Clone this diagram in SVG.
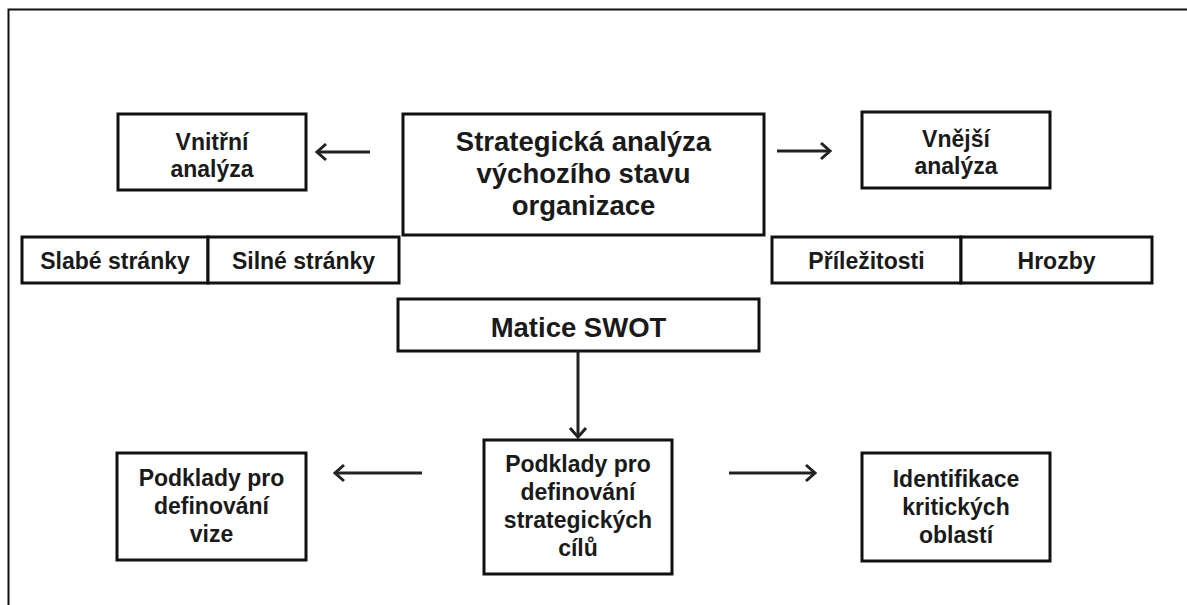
<svg xmlns="http://www.w3.org/2000/svg" width="1187" height="605" viewBox="0 0 1187 605">
<defs>
<style>
.box{fill:#fff;stroke:#111;stroke-width:3}
.t{font-family:"Liberation Sans",Arial,sans-serif;font-weight:bold;fill:#1a1a1a;text-anchor:middle}
.s{font-size:23px}
.l{font-size:27.5px}
.c{fill:none;stroke:#222;stroke-width:3}
</style>
<marker id="ah" markerUnits="userSpaceOnUse" markerWidth="14" markerHeight="20" refX="12" refY="10" orient="auto">
<path d="M3,2 L12,10 L3,18" fill="none" stroke="#222" stroke-width="3"/>
</marker>
</defs>
<rect width="1187" height="605" fill="#fff"/>
<path d="M8.5,605 V9.5 H1187" fill="none" stroke="#111" stroke-width="2"/>

<g id="vnitrni">
<rect class="box" x="118" y="114" width="188" height="76"/>
<text class="t s" x="212" y="150">Vnitřní</text>
<text class="t s" x="212" y="177">analýza</text>
</g>
<g id="strategicka">
<rect class="box" x="403" y="114" width="361" height="121"/>
<text class="t l" x="583.5" y="151">Strategická analýza</text>
<text class="t l" x="583.5" y="183">výchozího stavu</text>
<text class="t l" x="583.5" y="215">organizace</text>
</g>
<g id="vnejsi">
<rect class="box" x="862" y="112" width="188" height="76"/>
<text class="t s" x="956" y="147">Vnější</text>
<text class="t s" x="956" y="174">analýza</text>
</g>
<g id="slabe">
<rect class="box" x="22" y="237" width="186" height="46"/>
<text class="t s" x="115" y="269">Slabé stránky</text>
</g>
<g id="silne">
<rect class="box" x="208" y="237" width="191" height="46"/>
<text class="t s" x="303.5" y="269">Silné stránky</text>
</g>
<g id="prilezitosti">
<rect class="box" x="772" y="237" width="189" height="46"/>
<text class="t s" x="866.5" y="269">Příležitosti</text>
</g>
<g id="hrozby">
<rect class="box" x="961" y="237" width="191" height="46"/>
<text class="t s" x="1056.5" y="269">Hrozby</text>
</g>
<g id="matice">
<rect class="box" x="398" y="299" width="361" height="52"/>
<text class="t l" x="578.5" y="337">Matice SWOT</text>
</g>
<g id="vize">
<rect class="box" x="117" y="453" width="189" height="107"/>
<text class="t s" x="211.5" y="486">Podklady pro</text>
<text class="t s" x="211.5" y="514">definování</text>
<text class="t s" x="211.5" y="542">vize</text>
</g>
<g id="cile">
<rect class="box" x="484" y="440" width="188" height="134"/>
<text class="t s" x="578" y="472">Podklady pro</text>
<text class="t s" x="578" y="500">definování</text>
<text class="t s" x="578" y="528">strategických</text>
<text class="t s" x="578" y="556">cílů</text>
</g>
<g id="identifikace">
<rect class="box" x="862" y="453" width="188" height="108"/>
<text class="t s" x="956" y="487">Identifikace</text>
<text class="t s" x="956" y="515">kritických</text>
<text class="t s" x="956" y="543">oblastí</text>
</g>

<g id="connectors">
<line class="c" x1="370" y1="152" x2="317" y2="152" marker-end="url(#ah)"/>
<line class="c" x1="777" y1="151" x2="830" y2="151" marker-end="url(#ah)"/>
<line class="c" x1="578" y1="351" x2="578" y2="437" marker-end="url(#ah)"/>
<line class="c" x1="422" y1="473" x2="335" y2="473" marker-end="url(#ah)"/>
<line class="c" x1="729" y1="473" x2="815" y2="473" marker-end="url(#ah)"/>
</g>
</svg>
